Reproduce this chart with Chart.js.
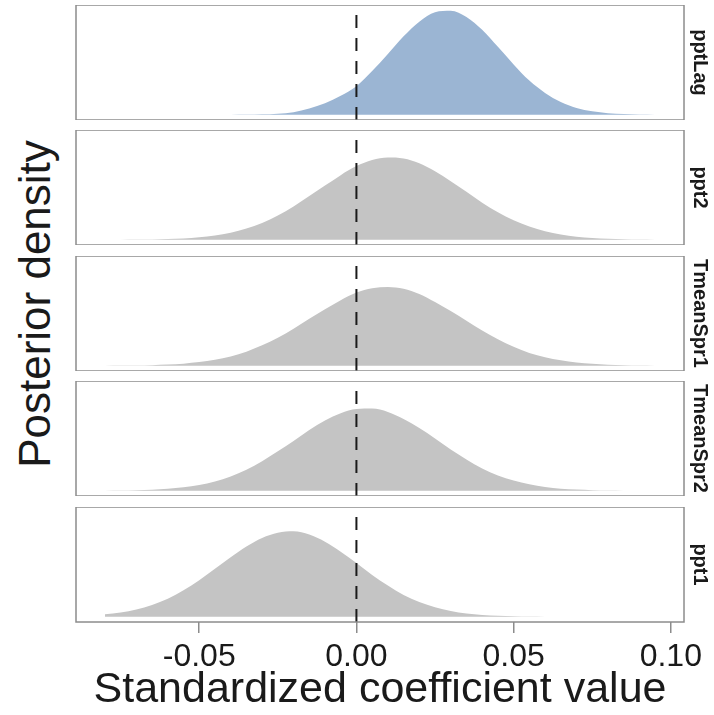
<!DOCTYPE html>
<html lang="en">
<head>
    <meta charset="UTF-8">
    <title>Posterior density</title>
    <script src="https://cdn.jsdelivr.net/npm/chart.js"></script>
    <style>
        html, body { margin: 0; padding: 0; background: #fff; }
        .page { position: relative; width: 714px; height: 715px; overflow: hidden; }
        .panel { position: absolute; left: 0; }
        .ytitle {
            position: absolute; left: -165px; top: 282px; width: 400px; height: 44px;
            line-height: 44px; text-align: center; font-size: 44px; color: #1a1a1a;
            font-family: "Liberation Sans", Arial, Helvetica, sans-serif;
            transform: rotate(-90deg); white-space: nowrap;
        }
    </style>
</head>
<body>
<div class="page" id="page">
    <div class="ytitle">Posterior density</div>
</div>

<script>
// grid of coefficient values (every 0.005)
const xs = [-0.085, -0.08, -0.075, -0.07, -0.065, -0.06, -0.055, -0.05, -0.045, -0.04,
            -0.035, -0.03, -0.025, -0.02, -0.015, -0.01, -0.005, 0, 0.005, 0.01,
            0.015, 0.02, 0.025, 0.03, 0.035, 0.04, 0.045, 0.05, 0.055, 0.06,
            0.065, 0.07, 0.075, 0.08, 0.085, 0.09, 0.095];

// panel names, top to bottom
const panelNames = ['pptLag', 'ppt2', 'TmeanSpr1', 'TmeanSpr2', 'ppt1'];

// posterior densities (null = outside the curve)
const pptLag = [null, null, null, null, null, null, 0.0, 0.0, 0.004, 0.013,
                0.04, 0.10, 0.24, 0.54, 1.3, 2.4, 4.0, 6.0, 9.2, 12.8,
                16.5, 19.6, 21.6, 21.9, 20.6, 17.9, 14.3, 10.6, 7.2, 4.6,
                2.7, 1.45, 0.73, 0.34, 0.14, 0.06, 0.02];
const ppt2 = [null, 0.007, 0.016, 0.035, 0.074, 0.15, 0.28, 0.52, 0.90, 1.48,
              2.35, 3.54, 5.1, 7.0, 9.2, 11.4, 13.6, 15.5, 16.8, 17.3,
              17.1, 16.1, 14.4, 12.3, 10.1, 7.8, 5.8, 4.1, 2.8, 1.8,
              1.1, 0.64, 0.36, 0.19, 0.10, 0.05, 0.02];
const tmeanSpr1 = [null, 0.016, 0.034, 0.07, 0.13, 0.25, 0.45, 0.77, 1.26, 1.97,
                   2.97, 4.3, 5.9, 7.8, 9.9, 11.9, 13.8, 15.4, 16.3, 16.6,
                   16.2, 15.1, 13.4, 11.5, 9.5, 7.4, 5.6, 4.0, 2.7, 1.8,
                   1.15, 0.69, 0.40, 0.22, 0.12, 0.06, 0.03];
const tmeanSpr2 = [null, 0.026, 0.055, 0.11, 0.22, 0.41, 0.72, 1.22, 1.96, 3.0,
                   4.4, 6.2, 8.3, 10.5, 12.8, 14.8, 16.3, 17.2, 17.3, 16.6,
                   15.1, 13.2, 11.0, 8.7, 6.6, 4.7, 3.2, 2.15, 1.35, 0.8,
                   0.45, 0.25, 0.13, 0.06, 0.03, 0.014, 0.006];
const ppt1 = [null, 0.51, 0.92, 1.55, 2.5, 3.8, 5.6, 7.7, 10.1, 12.5,
              14.8, 16.6, 17.7, 18.0, 17.3, 15.8, 13.7, 11.3, 8.8, 6.6,
              4.6, 3.1, 2.0, 1.2, 0.68, 0.37, 0.19, 0.10, 0.045, 0.02,
              0.01, 0.004, null, null, null, null, null];

const tickValues = [-0.05, 0, 0.05, 0.10];
const tickLabels = ['-0.05', '0.00', '0.05', '0.10'];

const seriesList = [pptLag, ppt2, tmeanSpr1, tmeanSpr2, ppt1];
const fillColors = ['#9bb5d3', '#c4c4c4', '#c4c4c4', '#c4c4c4', '#c4c4c4'];

const X_MIN = -0.0892, X_MAX = 0.1042;
const Y_MIN = -1.1, Y_MAX = 23.1;
const panelTops = [5, 130, 256, 381, 507];
const PANEL_H = 115;
const FONT = '"Liberation Sans", Arial, Helvetica, sans-serif';

// box, dashed zero line and strip label of a facet
const facetPlugin = {
    id: 'facet',
    afterDatasetsDraw(chart, args, opts) {
        const {ctx, chartArea: a} = chart;
        const x0 = chart.scales.x.getPixelForValue(0);
        ctx.save();
        ctx.beginPath();
        ctx.rect(a.left, a.top, a.right - a.left, a.bottom - a.top);
        ctx.clip();
        ctx.strokeStyle = '#1a1a1a';
        ctx.lineWidth = 2;
        ctx.setLineDash([13, 10]);
        ctx.beginPath();
        ctx.moveTo(x0, a.bottom);
        ctx.lineTo(x0, a.top);
        ctx.stroke();
        ctx.restore();
    },
    afterDraw(chart, args, opts) {
        const {ctx, chartArea: a} = chart;
        ctx.save();
        ctx.strokeStyle = '#8c8c8c';
        ctx.lineWidth = 1.5;
        ctx.strokeRect(a.left, a.top, a.right - a.left, a.bottom - a.top);
        // strip text on the right
        ctx.translate(a.right + 16, (a.top + a.bottom) / 2);
        ctx.rotate(Math.PI / 2);
        ctx.fillStyle = '#1a1a1a';
        ctx.font = 'bold 20px ' + FONT;
        ctx.textAlign = 'center';
        ctx.textBaseline = 'middle';
        ctx.fillText(opts.label, 0, 0);
        ctx.restore();
    }
};

const page = document.getElementById('page');

panelNames.forEach((name, i) => {
    const isBottom = i === panelNames.length - 1;
    const h = isBottom ? PANEL_H + 90 : PANEL_H;

    const box = document.createElement('div');
    box.className = 'panel';
    box.style.top = panelTops[i] + 'px';
    box.style.width = '714px';
    box.style.height = h + 'px';
    const canvas = document.createElement('canvas');
    canvas.width = 714;
    canvas.height = h;
    box.appendChild(canvas);
    page.appendChild(box);

    const points = [];
    xs.forEach((x, k) => {
        if (seriesList[i][k] !== null) points.push({x: x, y: seriesList[i][k]});
    });

    new Chart(canvas.getContext('2d'), {
        type: 'line',
        data: {
            datasets: [{
                label: name,
                data: points,
                fill: 'origin',
                backgroundColor: fillColors[i],
                borderColor: 'rgba(0,0,0,0)',
                borderWidth: 0,
                pointRadius: 0,
                cubicInterpolationMode: 'monotone'
            }]
        },
        options: {
            responsive: false,
            animation: false,
            layout: { padding: { left: 76, right: 30, top: 0, bottom: 0 } },
            plugins: {
                legend: { display: false },
                tooltip: { enabled: false },
                facet: { label: name }
            },
            scales: {
                x: {
                    type: 'linear',
                    min: X_MIN,
                    max: X_MAX,
                    display: isBottom,
                    afterBuildTicks: s => { s.ticks = tickValues.map(v => ({ value: v })); },
                    grid: {
                        drawOnChartArea: false,
                        drawTicks: true,
                        tickLength: 11,
                        color: '#8c8c8c',
                        lineWidth: 1.5
                    },
                    border: { display: false },
                    ticks: {
                        padding: 4.8,
                        maxRotation: 0,
                        color: '#1a1a1a',
                        font: { family: FONT, size: 32, lineHeight: 1.2 },
                        callback: (v, idx) => tickLabels[idx]
                    },
                    title: {
                        display: true,
                        text: 'Standardized coefficient value',
                        color: '#1a1a1a',
                        font: { family: FONT, size: 43, lineHeight: 1 },
                        padding: { top: -12, bottom: 0 }
                    }
                },
                y: { min: Y_MIN, max: Y_MAX, display: false }
            }
        },
        plugins: [facetPlugin]
    });
});
</script>
</body>
</html>
